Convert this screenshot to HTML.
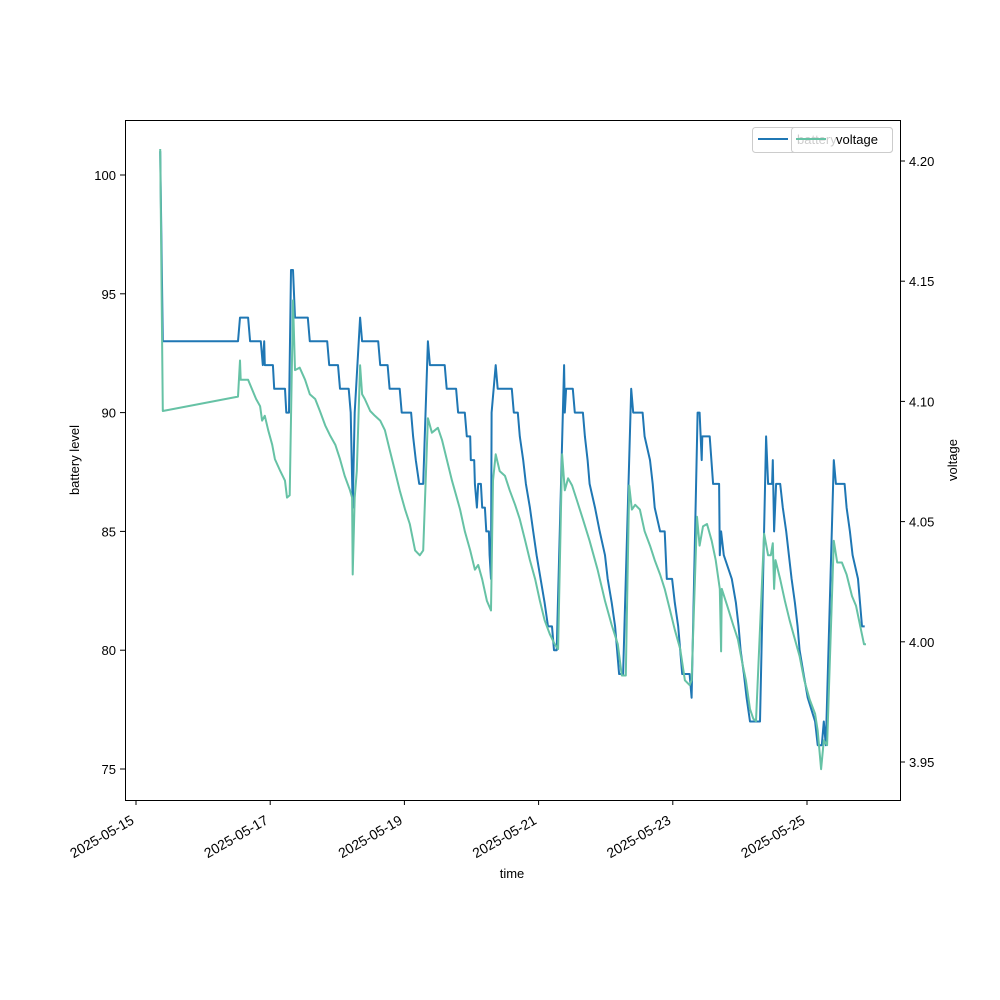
<!DOCTYPE html>
<html><head><meta charset="utf-8"><style>
body{margin:0;background:#fff}
svg{display:block;font-family:"Liberation Sans","DejaVu Sans",sans-serif}
</style></head><body>
<svg id="chart" width="1000" height="1000" viewBox="0 0 1000 1000" xmlns="http://www.w3.org/2000/svg">
<rect width="1000" height="1000" fill="#fff"/>
<g id="grid"></g>
<g id="series"></g>
<rect x="125.5" y="120.5" width="775" height="680" fill="none" stroke="#000" stroke-width="1"/>
<g id="axes"></g>
<text x="512" y="878" font-size="13" text-anchor="middle">time</text>
<text transform="translate(79,460) rotate(-90)" font-size="13" text-anchor="middle">battery level</text>
<text transform="translate(957,460) rotate(-90)" font-size="13" text-anchor="middle">voltage</text>
<g>
<rect x="752.5" y="127.5" width="140" height="25" rx="3" fill="#fff" fill-opacity="0.8" stroke="#ccc"/>
<line x1="758" y1="139" x2="788" y2="139" stroke="#1f77b4" stroke-width="2"/>
<text x="797" y="144" font-size="13">battery</text>
</g>
<g>
<rect x="791.5" y="127.5" width="101" height="25" rx="3" fill="#fff" fill-opacity="0.8" stroke="#ccc"/>
<line x1="796" y1="139" x2="826" y2="139" stroke="#66c2a5" stroke-width="2"/>
<text x="836" y="144" font-size="13">voltage</text>
</g>
</svg>
<script>
const batteryDays=[15.36,15.40,16.52,16.55,16.67,16.70,16.86,16.89,16.91,16.92,17.04,17.06,17.22,17.24,17.28,17.31,17.34,17.37,17.56,17.59,17.85,17.88,18.01,18.04,18.17,18.20,18.23,18.26,18.34,18.37,18.61,18.64,18.75,18.78,18.93,18.96,19.10,19.13,19.17,19.22,19.28,19.35,19.38,19.60,19.63,19.77,19.80,19.90,19.93,19.98,19.99,20.04,20.05,20.08,20.10,20.14,20.16,20.20,20.22,20.26,20.27,20.29,20.30,20.36,20.39,20.60,20.63,20.69,20.72,20.77,20.81,20.87,20.92,20.97,21.03,21.09,21.14,21.20,21.23,21.27,21.38,21.39,21.41,21.51,21.54,21.66,21.69,21.73,21.76,21.84,21.91,21.99,22.03,22.09,22.14,22.17,22.20,22.26,22.38,22.41,22.55,22.58,22.66,22.70,22.73,22.81,22.88,22.91,22.99,23.03,23.08,23.11,23.14,23.25,23.28,23.37,23.40,23.43,23.44,23.55,23.60,23.69,23.70,23.72,23.76,23.88,23.94,23.98,24.01,24.06,24.10,24.15,24.30,24.39,24.42,24.48,24.49,24.51,24.54,24.60,24.64,24.69,24.73,24.77,24.82,24.86,24.89,24.95,25.01,25.12,25.16,25.22,25.25,25.28,25.40,25.43,25.56,25.59,25.64,25.68,25.76,25.79,25.82,25.86];
const batteryLevels=[101,93,93,94,94,93,93,92,93,92,92,91,91,90,90,96,96,94,94,93,93,92,92,91,91,90,86,90,94,93,93,92,92,91,91,90,90,89,88,87,87,93,92,92,91,91,90,90,89,89,88,88,87,86,87,87,86,86,85,85,84,83,90,92,91,91,90,90,89,88,87,86,85,84,83,82,81,81,80,80,92,90,91,91,90,90,89,88,87,86,85,84,83,82,81,80,79,79,91,90,90,89,88,87,86,85,85,83,83,82,81,80,79,79,78,90,90,88,89,89,87,87,84,85,84,83,82,81,80,79,78,77,77,89,87,87,88,85,87,87,86,85,84,83,82,81,80,79,78,77,76,76,77,76,88,87,87,86,85,84,83,82,81,81];
const voltageDays=[15.36,15.40,16.52,16.55,16.56,16.62,16.67,16.73,16.79,16.85,16.88,16.92,16.97,17.03,17.07,17.15,17.22,17.25,17.29,17.34,17.37,17.44,17.52,17.59,17.67,17.74,17.82,17.89,17.97,18.04,18.11,18.19,18.22,18.23,18.26,18.29,18.34,18.37,18.41,18.49,18.56,18.64,18.71,18.78,18.86,18.93,19.01,19.08,19.16,19.23,19.28,19.35,19.41,19.50,19.56,19.63,19.71,19.77,19.83,19.90,19.98,20.05,20.10,20.16,20.23,20.29,20.32,20.36,20.42,20.50,20.57,20.65,20.72,20.80,20.87,20.95,21.02,21.09,21.17,21.24,21.29,21.35,21.39,21.44,21.50,21.57,21.66,21.76,21.88,21.99,22.09,22.18,22.24,22.30,22.35,22.39,22.44,22.51,22.58,22.66,22.73,22.81,22.88,22.96,23.03,23.11,23.18,23.25,23.28,23.36,23.40,23.45,23.51,23.58,23.64,23.70,23.72,23.73,23.81,23.90,23.97,24.03,24.09,24.15,24.20,24.24,24.36,24.42,24.46,24.49,24.51,24.53,24.60,24.67,24.74,24.82,24.89,24.96,25.04,25.12,25.16,25.21,25.25,25.30,25.40,25.45,25.52,25.59,25.67,25.73,25.79,25.85,25.88];
const voltageValues=[4.205,4.096,4.102,4.117,4.109,4.109,4.109,4.105,4.101,4.098,4.092,4.094,4.088,4.082,4.076,4.071,4.067,4.060,4.061,4.142,4.113,4.114,4.109,4.103,4.101,4.096,4.090,4.086,4.082,4.076,4.069,4.063,4.060,4.028,4.060,4.071,4.115,4.103,4.101,4.096,4.094,4.092,4.088,4.080,4.071,4.063,4.055,4.049,4.038,4.036,4.038,4.093,4.087,4.089,4.084,4.076,4.067,4.061,4.055,4.046,4.038,4.030,4.032,4.026,4.017,4.013,4.067,4.078,4.071,4.069,4.063,4.057,4.051,4.042,4.034,4.026,4.017,4.009,4.003,3.999,3.997,4.078,4.063,4.068,4.065,4.059,4.051,4.042,4.030,4.017,4.007,3.999,3.986,3.986,4.065,4.055,4.057,4.055,4.046,4.040,4.034,4.028,4.022,4.013,4.005,3.997,3.984,3.982,3.984,4.052,4.040,4.048,4.049,4.042,4.034,4.022,3.996,4.022,4.015,4.007,4.001,3.992,3.984,3.972,3.968,3.967,4.045,4.036,4.036,4.041,4.022,4.034,4.026,4.017,4.009,4.001,3.994,3.984,3.976,3.970,3.963,3.947,3.959,3.957,4.042,4.033,4.033,4.028,4.019,4.015,4.007,3.999,3.999];
const xTickDays=[15,17,19,21,23,25];
const xTickLabels=["2025-05-15","2025-05-17","2025-05-19","2025-05-21","2025-05-23","2025-05-25"];
const leftTicks=[75,80,85,90,95,100];
const rightTicks=[3.95,4.00,4.05,4.10,4.15,4.20];

const NS="http://www.w3.org/2000/svg";
const xs=d=>136+(d-15)*67.1;
const yl=v=>175+(100-v)*23.76;
const yr=v=>161+(4.2-v)*2404;
function mk(tag,attrs,parent){const e=document.createElementNS(NS,tag);for(const k in attrs)e.setAttribute(k,attrs[k]);parent.appendChild(e);return e;}
const axes=document.getElementById('axes');
const series=document.getElementById('series');

xTickDays.forEach((d,i)=>{
  const x=xs(d);
  const t=mk('line',{x1:x,y1:800,x2:x,y2:805,stroke:'#000'},axes);
  
  
  const ax=x-1, ay=823;
  const tx=mk('text',{x:ax,y:ay,'font-size':13.9,'text-anchor':'end',transform:`rotate(-30 ${ax} ${ay})`},axes);
  
  
  tx.textContent=xTickLabels[i];
});
leftTicks.forEach(v=>{
  const y=yl(v);
  const t=mk('line',{x1:120,y1:y,x2:125,y2:y,stroke:'#000'},axes);
  
  
  const tx=mk('text',{x:116,y:y+5,'font-size':13,'text-anchor':'end'},axes);
  
  
  tx.textContent=v;
});
rightTicks.forEach(v=>{
  const y=yr(v);
  const t=mk('line',{x1:900,y1:y,x2:905,y2:y,stroke:'#000'},axes);
  
  
  const tx=mk('text',{x:909,y:y+5,'font-size':13,'text-anchor':'start'},axes);
  
  
  tx.textContent=v.toFixed(2);
});
const bp=batteryDays.map((d,i)=>xs(d).toFixed(1)+','+yl(batteryLevels[i]).toFixed(1)).join(' ');
const bl=mk('polyline',{points:bp,fill:'none',stroke:'#1f77b4','stroke-width':2,'stroke-linejoin':'round'},series);


const vp=voltageDays.map((d,i)=>xs(d).toFixed(1)+','+yr(voltageValues[i]).toFixed(1)).join(' ');
const vl=mk('polyline',{points:vp,fill:'none',stroke:'#66c2a5','stroke-width':2,'stroke-linejoin':'round'},series);


</script>
</body></html>
